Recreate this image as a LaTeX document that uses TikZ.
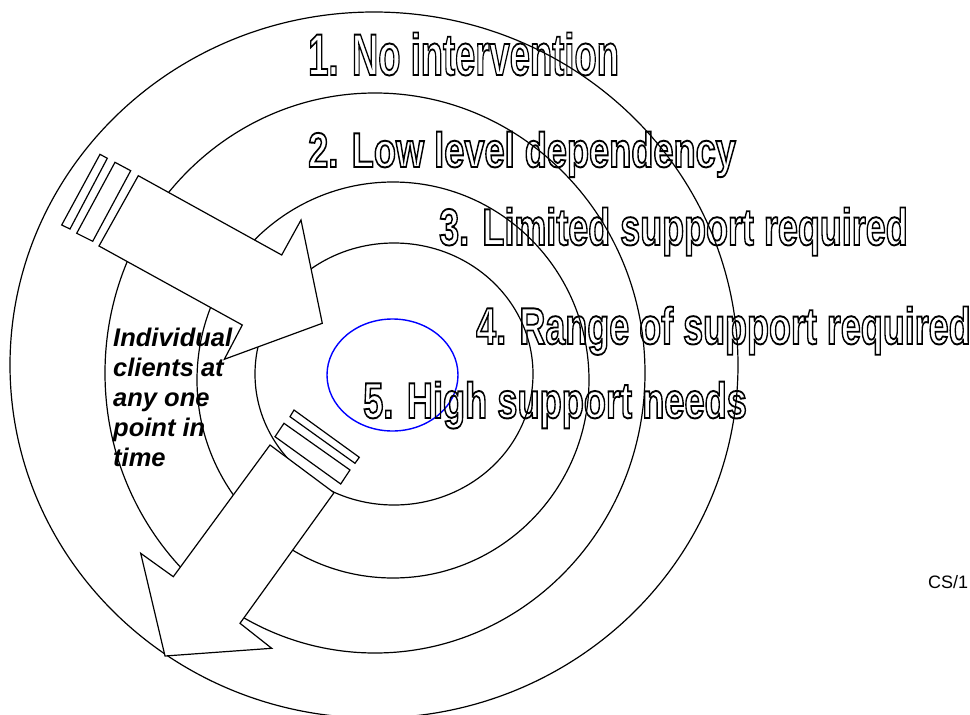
\documentclass[tikz,border=0pt]{standalone}
\usepackage{fontspec}
\setmainfont{Liberation Sans}
\usepackage{graphicx}
\usetikzlibrary{positioning}
% outlined letters: stroke only, no fill
\newcommand\hollow[1]{\special{pdf:literal direct 1 Tr 1.9 w}#1\special{pdf:literal direct 0 Tr}}
\newcommand\bandtext[3]{\scalebox{#1}[1]{\fontsize{#2}{#2}\selectfont\bfseries\hollow{#3}}}
\tikzset{
  ring/.style={draw, line width=1.2pt},
  core/.style={draw=blue, line width=1.4pt},
  bigarrow/.style={draw, fill=white, line width=1.2pt, line join=miter},
  band/.style={inner sep=0pt, anchor=base west},
  clientnote/.style={inner sep=0pt, anchor=north west, align=left, font=\fontsize{25.5}{30.2}\selectfont\bfseries\itshape},
  refnote/.style={inner sep=0pt, anchor=base west, font=\fontsize{18}{18}\selectfont}
}

\begin{document}
\begin{tikzpicture}[x=1pt, y=-1pt]
  \useasboundingbox (0,0) rectangle (970,715);

  % the five levels
  \draw[ring] (374,365) ellipse [x radius=364pt, y radius=353pt];
  \draw[ring] (375,373) ellipse [x radius=270pt, y radius=280pt];
  \draw[ring] (393,380) ellipse [x radius=196pt, y radius=198pt];
  \draw[ring] (394,374) ellipse [x radius=139pt, y radius=131pt];
  \draw[core] (392.5,375) ellipse [x radius=65.5pt, y radius=56pt];

  % arrow in
  \draw[bigarrow] (100,154.3) -- (107.3,158.3) -- (70,229) -- (61.7,225) -- cycle;
  \draw[bigarrow] (115,162.3) -- (130.7,170.7) -- (92.7,241.3) -- (76.7,233.3) -- cycle;
  \draw[bigarrow] (138.3,175.7) -- (281.7,255) -- (301,220) -- (322.3,323.3)
    -- (224.3,359.3) -- (242.3,325) -- (99,246) -- cycle;

  % arrow out
  \draw[bigarrow] (294,410) -- (359.3,457.3) -- (355,463.3) -- (290,416.7) -- cycle;
  \draw[bigarrow] (284,423.3) -- (350,470) -- (340.7,484) -- (275,436.7) -- cycle;
  \draw[bigarrow] (270,445) -- (334,492.7) -- (240,623.3) -- (271.7,648.3)
    -- (165,656) -- (140.7,553.3) -- (173.3,576.7) -- cycle;

  % labels
  \node[band] (band1) at (308,75) {\bandtext{0.62}{58.7}{1. No intervention}};
  \node[band] (band2) at (308,167) {\bandtext{0.74}{48.9}{2. Low level dependency}};
  \node[band] (band3) at (439,245) {\bandtext{0.695}{51.7}{3. Limited support required}};
  \node[band] (band4) at (476,344) {\bandtext{0.695}{51.7}{4. Range of support required}};
  \node[band] (band5) at (363,418) {\bandtext{0.72}{50.3}{5. High support needs}};

  \node[clientnote] (clients) at (113,327.5) {Individual\\clients at\\any one\\point in\\time};
  \node[refnote] (ref) at (928,588) {CS/1};
\end{tikzpicture}
\end{document}
